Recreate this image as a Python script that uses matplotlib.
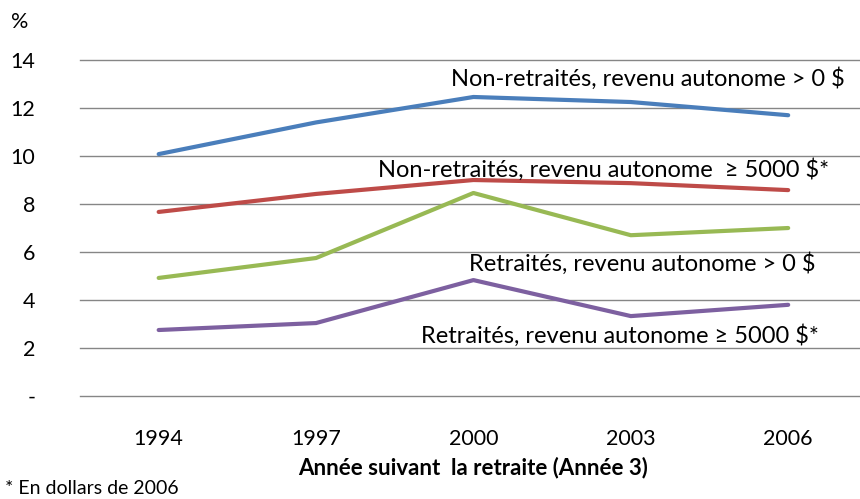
import matplotlib
matplotlib.use("Agg")
import matplotlib.pyplot as plt
import numpy as np

plt.rcParams['font.family'] = ['Lato', 'DejaVu Sans']

years = ['1994', '1997', '2000', '2003', '2006']
non_ret_0 = [10.08, 11.4, 12.46, 12.25, 11.7]
non_ret_5000 = [7.67, 8.42, 9.0, 8.87, 8.58]
ret_0 = [4.92, 5.75, 8.46, 6.7, 7.0]
ret_5000 = [2.75, 3.04, 4.83, 3.33, 3.8]
yticks = [0, 2, 4, 6, 8, 10, 12, 14]
ytick_labels = ['-', '2', '4', '6', '8', '10', '12', '14']

fig = plt.figure(figsize=(8.6, 4.99), dpi=100)
ax = fig.add_axes([0.093, 0.2064, 0.915, 0.6733])

x = np.arange(len(years))
ax.plot(x, non_ret_0, color='#4A7EBB', lw=3, solid_capstyle='round')
ax.plot(x, non_ret_5000, color='#BE4B48', lw=3, solid_capstyle='round')
ax.plot(x, ret_0, color='#98B954', lw=3, solid_capstyle='round')
ax.plot(x, ret_5000, color='#7D60A0', lw=3, solid_capstyle='round')

ax.set_xlim(-0.5, 4.5)
ax.set_ylim(0, 14)
ax.set_yticks(yticks)
ax.set_yticklabels(ytick_labels)
ax.set_xticks(x)
ax.set_xticklabels(years)
for yv in yticks:
    ax.axhline(yv, color='#868686', lw=1.0, zorder=0, clip_on=False)
for s in ax.spines.values():
    s.set_visible(False)
ax.tick_params(axis='both', length=0, labelsize=15.5, colors='black')
ax.tick_params(axis='y', pad=32)
ax.tick_params(axis='x', pad=24)
for lab in ax.get_yticklabels():
    lab.set_horizontalalignment('right')

ax.set_xlabel('Année suivant  la retraite (Année 3)', fontsize=16, fontweight='bold', labelpad=5)

fs = 17
ax.text(3.11, 13.25, 'Non-retraités, revenu autonome > 0 $', fontsize=fs, ha='center', va='center')
ax.text(2.83, 9.42, 'Non-retraités, revenu autonome  ≥ 5000 $*', fontsize=fs, ha='center', va='center')
ax.text(3.07, 5.54, 'Retraités, revenu autonome > 0 $', fontsize=fs, ha='center', va='center')
ax.text(2.93, 2.5, 'Retraités, revenu autonome ≥ 5000 $*', fontsize=fs, ha='center', va='center')

fig.text(20 / 860, 1 - 22 / 499, '%', fontsize=15.5, ha='center', va='center')
fig.text(5 / 860, 1 - 489 / 499, '* En dollars de 2006', fontsize=14, ha='left', va='center')

fig.savefig('out.png', dpi=100)
